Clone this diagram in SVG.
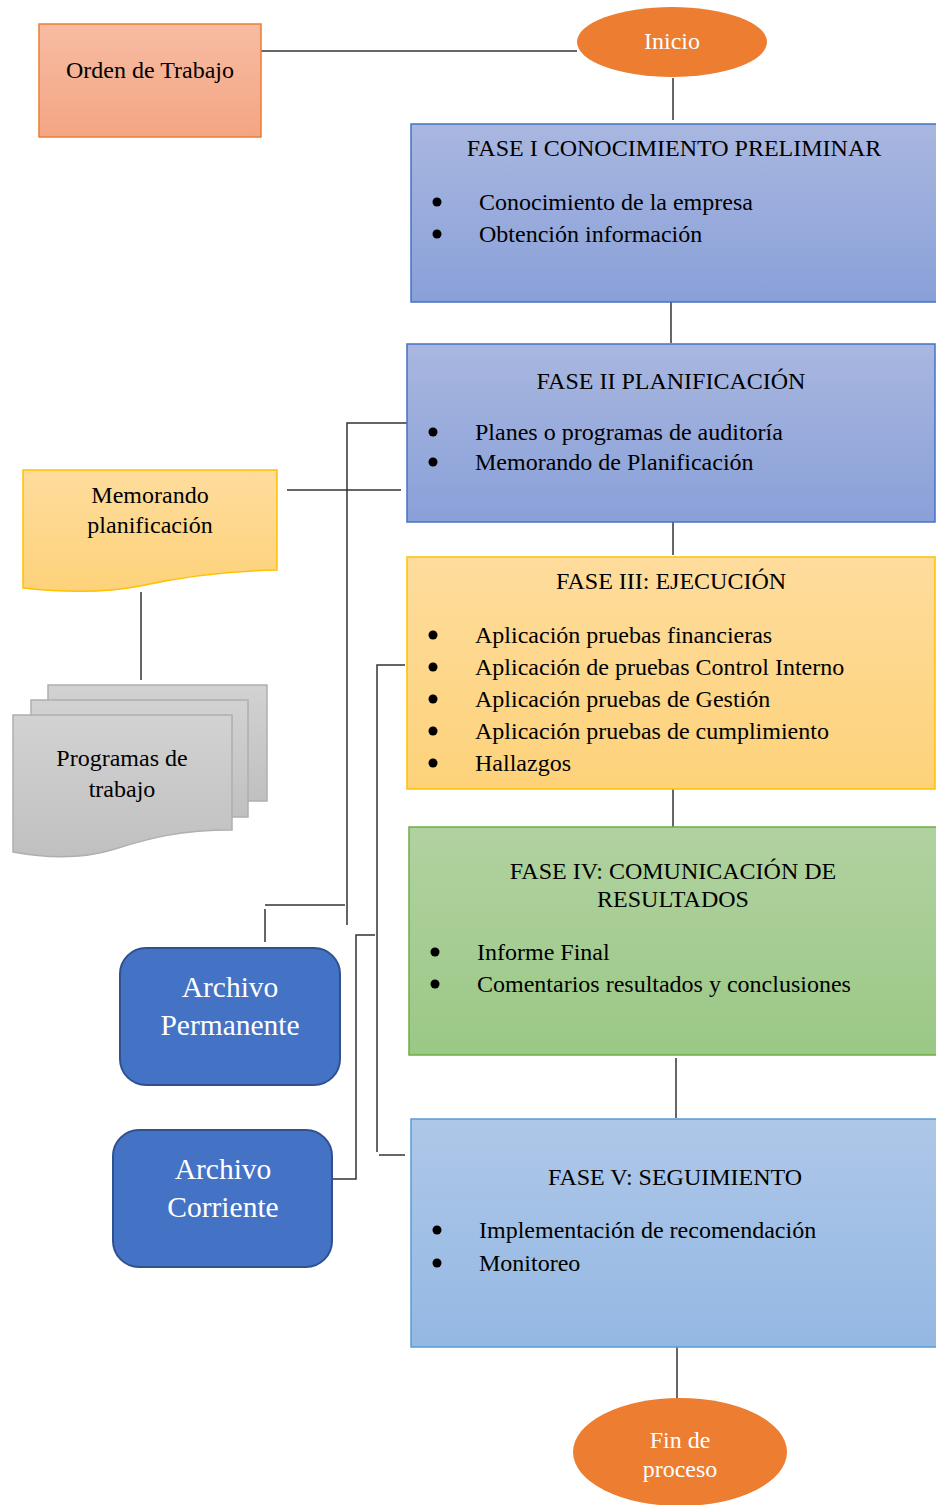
<svg xmlns="http://www.w3.org/2000/svg" width="936" height="1505" viewBox="0 0 936 1505">
<defs>
<linearGradient id="gOrden" x1="0" y1="0" x2="0" y2="1"><stop offset="0" stop-color="#F7BCA3"/><stop offset="1" stop-color="#F4A583"/></linearGradient>
<linearGradient id="gBlue" x1="0" y1="0" x2="0" y2="1"><stop offset="0" stop-color="#A9B7E0"/><stop offset="1" stop-color="#89A0D8"/></linearGradient>
<linearGradient id="gYellow" x1="0" y1="0" x2="0" y2="1"><stop offset="0" stop-color="#FEDC9C"/><stop offset="1" stop-color="#FDD27A"/></linearGradient>
<linearGradient id="gGreen" x1="0" y1="0" x2="0" y2="1"><stop offset="0" stop-color="#B1D2A0"/><stop offset="1" stop-color="#9BC886"/></linearGradient>
<linearGradient id="gLight" x1="0" y1="0" x2="0" y2="1"><stop offset="0" stop-color="#AEC7E8"/><stop offset="1" stop-color="#94B8E3"/></linearGradient>
<linearGradient id="gGray" x1="0" y1="0" x2="0" y2="1"><stop offset="0" stop-color="#D2D2D2"/><stop offset="1" stop-color="#C0C0C0"/></linearGradient>
<style>
text{font-family:"Liberation Serif","Times New Roman",serif;fill:#000;dominant-baseline:central}
.t{font-size:24px}
.c{text-anchor:middle}
.w{fill:#fff}
.a{font-size:29.5px}
.conn line,.conn polyline{stroke:#333;stroke-width:1.5;fill:none}
.b{fill:#000}
</style>
</defs>

<g class="conn">
<line x1="261" y1="51" x2="577" y2="51"/>
<line x1="673" y1="78" x2="673" y2="120"/>
<line x1="671" y1="300" x2="671" y2="343"/>
<line x1="673" y1="515" x2="673" y2="555"/>
<line x1="673" y1="789" x2="673" y2="838"/>
<line x1="676" y1="1058" x2="676" y2="1118"/>
<line x1="677" y1="1347" x2="677" y2="1400"/>
<line x1="287" y1="490" x2="401" y2="490"/>
<line x1="141" y1="592" x2="141" y2="680"/>
<polyline points="409,423 347,423 347,925"/>
<polyline points="345,905 265,905"/>
<line x1="265" y1="909" x2="265" y2="942"/>
<polyline points="405,665 377,665 377,1152"/>
<line x1="379" y1="1155" x2="405" y2="1155"/>
<polyline points="332,1179 356,1179 356,935 375,935"/>
</g>

<g id="orden">
<rect x="39" y="24" width="222" height="113" fill="url(#gOrden)" stroke="#ED7D31" stroke-width="1.5"/>
<text class="t c" x="150" y="70">Orden de Trabajo</text>
</g>

<g id="inicio">
<ellipse cx="672" cy="42" rx="95" ry="35" fill="#ED7D31"/>
<text class="t c w" x="672" y="41">Inicio</text>
</g>

<g id="fase1">
<rect x="411" y="124" width="530" height="178" fill="url(#gBlue)" stroke="#4472C4" stroke-width="1.5"/>
<text class="t c" x="674" y="148">FASE I CONOCIMIENTO PRELIMINAR</text>
<circle class="b" cx="437" cy="202" r="4.5"/><text class="t" x="479" y="202">Conocimiento de la empresa</text>
<circle class="b" cx="437" cy="234" r="4.5"/><text class="t" x="479" y="234">Obtención información</text>
</g>

<g id="fase2">
<rect x="407" y="344" width="528" height="178" fill="url(#gBlue)" stroke="#4472C4" stroke-width="1.5"/>
<text class="t c" x="671" y="381">FASE II PLANIFICACIÓN</text>
<circle class="b" cx="433" cy="432" r="4.5"/><text class="t" x="475" y="432">Planes o programas de auditoría</text>
<circle class="b" cx="433" cy="462" r="4.5"/><text class="t" x="475" y="462">Memorando de Planificación</text>
</g>

<g id="fase3">
<rect x="407" y="557" width="528" height="232" fill="url(#gYellow)" stroke="#FFC000" stroke-width="1.5"/>
<text class="t c" x="671" y="581">FASE III: EJECUCIÓN</text>
<circle class="b" cx="433" cy="635" r="4.5"/><text class="t" x="475" y="635">Aplicación pruebas financieras</text>
<circle class="b" cx="433" cy="667" r="4.5"/><text class="t" x="475" y="667">Aplicación de pruebas Control Interno</text>
<circle class="b" cx="433" cy="699" r="4.5"/><text class="t" x="475" y="699">Aplicación pruebas de Gestión</text>
<circle class="b" cx="433" cy="731" r="4.5"/><text class="t" x="475" y="731">Aplicación pruebas de cumplimiento</text>
<circle class="b" cx="433" cy="763" r="4.5"/><text class="t" x="475" y="763">Hallazgos</text>
</g>

<g id="fase4">
<rect x="409" y="827" width="532" height="228" fill="url(#gGreen)" stroke="#70AD47" stroke-width="1.5"/>
<text class="t c" x="673" y="871">FASE IV: COMUNICACIÓN DE</text>
<text class="t c" x="673" y="899">RESULTADOS</text>
<circle class="b" cx="435" cy="952" r="4.5"/><text class="t" x="477" y="952">Informe Final</text>
<circle class="b" cx="435" cy="984" r="4.5"/><text class="t" x="477" y="984">Comentarios resultados y conclusiones</text>
</g>

<g id="fase5">
<rect x="411" y="1119" width="530" height="228" fill="url(#gLight)" stroke="#5B9BD5" stroke-width="1.5"/>
<text class="t c" x="675" y="1177">FASE V: SEGUIMIENTO</text>
<circle class="b" cx="437" cy="1230" r="4.5"/><text class="t" x="479" y="1230">Implementación de recomendación</text>
<circle class="b" cx="437" cy="1263" r="4.5"/><text class="t" x="479" y="1263">Monitoreo</text>
</g>

<g id="fin">
<ellipse cx="680" cy="1452" rx="107" ry="54" fill="#ED7D31"/>
<text class="t c w" x="680" y="1440">Fin de</text>
<text class="t c w" x="680" y="1469">proceso</text>
</g>

<g id="memorando">
<path d="M23,470 H277 V570 C220,571 180,577 140,586 C100,594 60,592 23,588 Z" fill="url(#gYellow)" stroke="#FFC000" stroke-width="1.5"/>
<text class="t c" x="150" y="495">Memorando</text>
<text class="t c" x="150" y="525">planificación</text>
</g>

<g id="programas">
<rect x="48" y="685" width="219" height="116" fill="url(#gGray)" stroke="#AFAFAF" stroke-width="1.5"/>
<rect x="31" y="700" width="217" height="117" fill="url(#gGray)" stroke="#AFAFAF" stroke-width="1.5"/>
<path d="M13,715 H232 V830 C180,830 150,838 115,849 C80,860 45,858 13,852 Z" fill="url(#gGray)" stroke="#AFAFAF" stroke-width="1.5"/>
<text class="t c" x="122" y="758">Programas de</text>
<text class="t c" x="122" y="789">trabajo</text>
</g>

<g id="permanente">
<rect x="120" y="948" width="220" height="137" rx="26" fill="#4472C4" stroke="#2F528F" stroke-width="2"/>
<text class="a c w" x="230" y="987">Archivo</text>
<text class="a c w" x="230" y="1025">Permanente</text>
</g>

<g id="corriente">
<rect x="113" y="1130" width="219" height="137" rx="26" fill="#4472C4" stroke="#2F528F" stroke-width="2"/>
<text class="a c w" x="223" y="1169">Archivo</text>
<text class="a c w" x="223" y="1207">Corriente</text>
</g>
</svg>
